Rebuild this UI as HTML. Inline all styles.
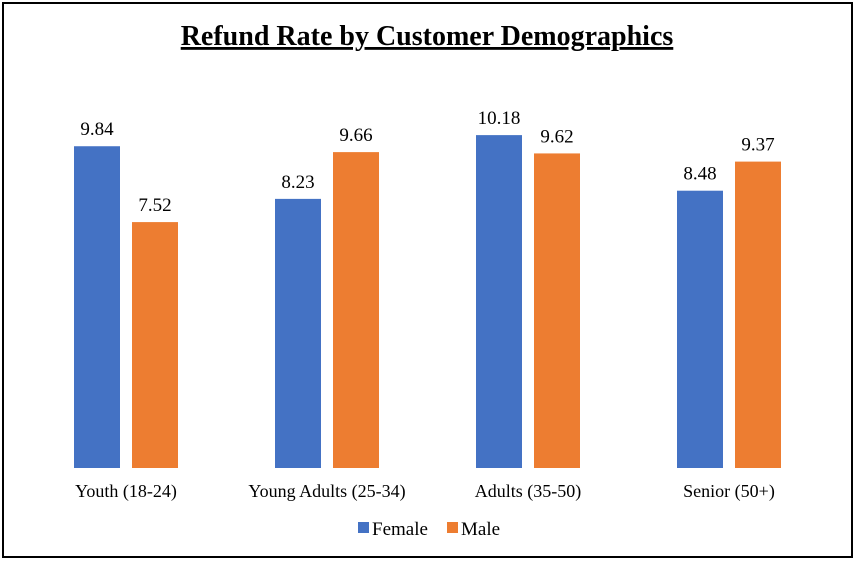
<!DOCTYPE html>
<html><head><meta charset="utf-8"><style>
html,body{margin:0;padding:0;background:#fff;}
svg{display:block;font-family:"Liberation Serif",serif;}
</style></head><body>
<svg id="chart" width="855" height="561" viewBox="0 0 855 561" xmlns="http://www.w3.org/2000/svg">
<rect x="3" y="3" width="849" height="554" fill="#fff" stroke="#000" stroke-width="2"/>
<text x="427" y="45" text-anchor="middle" font-size="28" font-weight="bold" text-decoration="underline">Refund Rate by Customer Demographics</text>
<g id="bars"></g>
<g id="labels"></g>
<g>
<rect x="358" y="522" width="11" height="11" fill="#4472C4"/>
<text x="372" y="535" font-size="19">Female</text>
<rect x="447" y="522" width="11" height="11" fill="#ED7D31"/>
<text x="461" y="535" font-size="19">Male</text>
</g>
</svg>
<script>
const categories = ["Youth (18-24)", "Young Adults (25-34)", "Adults (35-50)", "Senior (50+)"];
const femaleValues = [9.84, 8.23, 10.18, 8.48];
const maleValues = [7.52, 9.66, 9.62, 9.37];
const seriesNames = ["Female", "Male"];

const NS = "http://www.w3.org/2000/svg";
const plotLeft = 25.5, plotRight = 829.5, baseY = 468, pxPerUnit = 32.7;
const bandW = (plotRight - plotLeft) / categories.length;
const barW = 46, gap = 12;
const colors = ["#4472C4", "#ED7D31"];
function yScale(v){ return baseY - v * pxPerUnit; }
function xCenter(i){ return plotLeft + bandW * (i + 0.5); }
const bars = document.getElementById('bars');
const labels = document.getElementById('labels');
function mk(tag, attrs){ const e = document.createElementNS(NS, tag); for (const k in attrs) e.setAttribute(k, attrs[k]); return e; }
[femaleValues, maleValues].forEach((vals, s) => {
  vals.forEach((v, i) => {
    const x = s === 0 ? xCenter(i) - gap/2 - barW : xCenter(i) + gap/2;
    const r = mk('rect', {x: x, y: yScale(v), width: barW, height: baseY - yScale(v), fill: colors[s]});
    
    
    bars.appendChild(r);
    const t = mk('text', {x: x + barW/2, y: yScale(v) - 11, 'text-anchor': 'middle', 'font-size': '19'});
    t.textContent = v.toFixed(2);
    
    
    labels.appendChild(t);
  });
});
categories.forEach((c, i) => {
  const t = mk('text', {x: xCenter(i), y: 497, 'text-anchor': 'middle', 'font-size': '18'});
  t.textContent = c;
  
  
  labels.appendChild(t);
});
</script>
</body></html>
